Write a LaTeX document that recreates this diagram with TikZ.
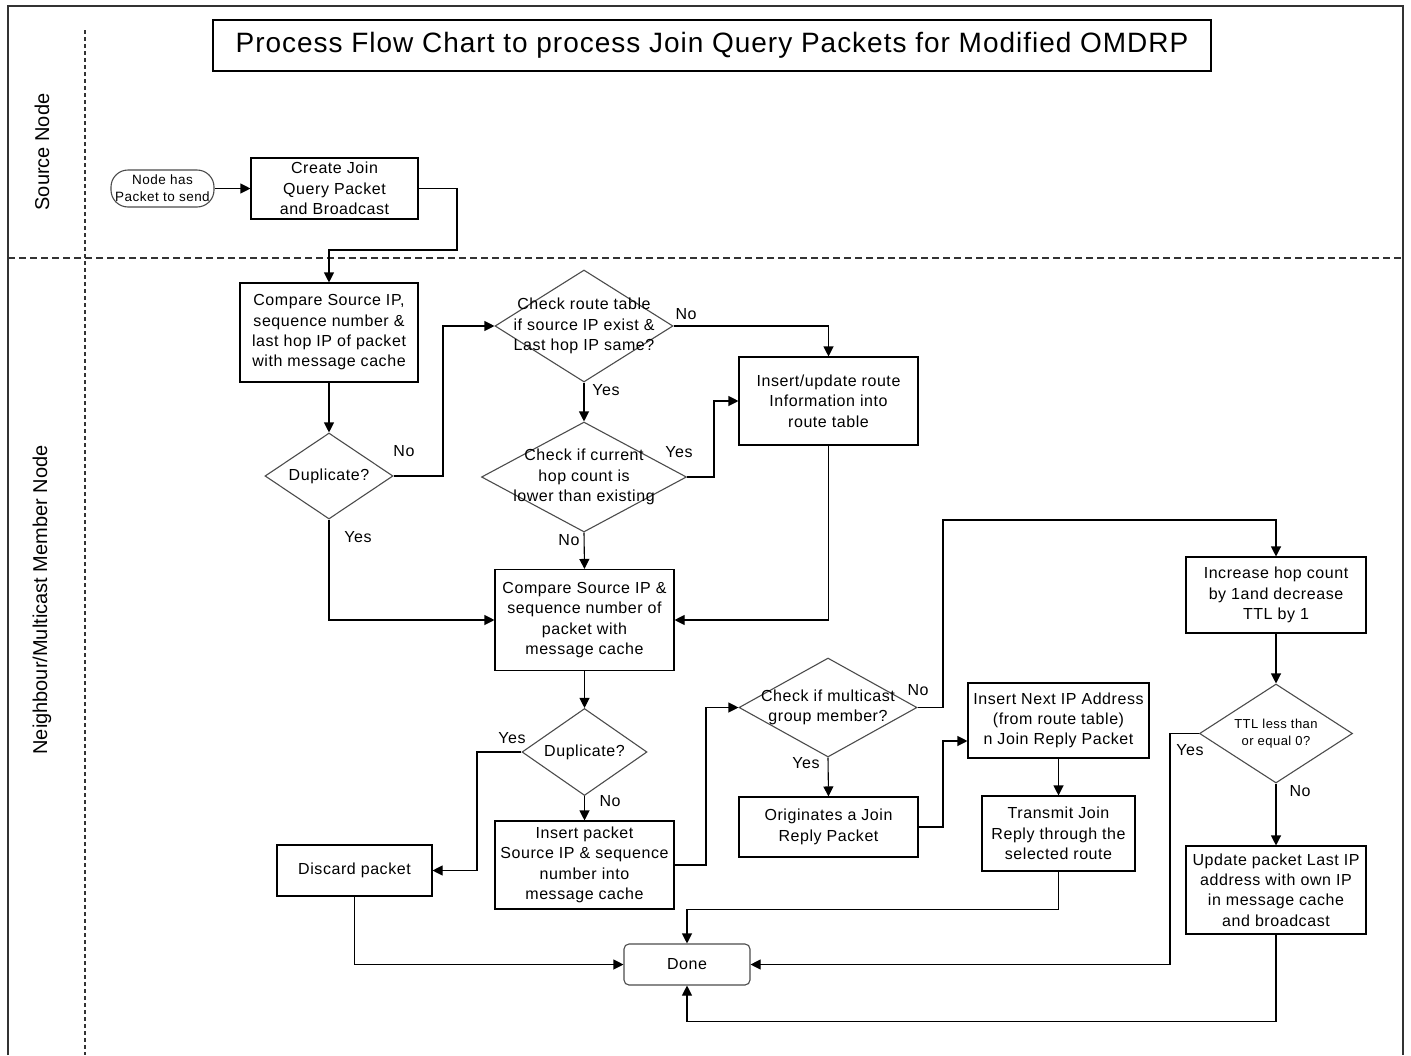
\documentclass[tikz,border=0pt]{standalone}
\usepackage{fontspec}
\setmainfont[LetterSpace=3.5]{Liberation Sans}
\newfontfamily\plainfont{Liberation Sans}
\usetikzlibrary{arrows.meta,shapes.geometric}
\begin{document}
\begin{tikzpicture}[x=1pt,y=-1pt,
  every node/.style={font=\fontsize{16}{20.3}\selectfont, text=black},
  box/.style={draw=black, line width=1.1pt, rectangle, inner sep=0pt, align=center},
  dia/.style={draw=black!70, line width=1.1pt, diamond, inner sep=0pt},
  dtext/.style={align=center, inner sep=0pt},
  conn/.style={line width=1.1pt, -{Triangle[length=10pt,width=10pt]}},
  yn/.style={inner sep=0pt},
  lane/.style={rotate=90, font=\plainfont\fontsize{20}{24}\selectfont, inner sep=0pt},
  frame/.style={draw=black!80, line width=1.3pt},
  hdash/.style={draw=black!80, line width=1.1pt, dash pattern=on 7pt off 4pt},
  vdash/.style={draw=black!80, line width=1.1pt, dash pattern=on 4pt off 3pt}
]
\useasboundingbox (0,0) rectangle (1411,1055);
\fill[white] (0,0) rectangle (1411,1055);

% frame and swimlanes
\draw[frame] (8,1055) -- (8,6) -- (1403,6) -- (1403,1055);
\draw[hdash] (8,258) -- (1403,258);
\draw[vdash] (85,30) -- (85,1055);
\node[lane] (laneSrc) at (42,152) {Source Node};
\node[lane] (laneNb) at (42,600) {Neighbour/Multicast Member Node};

% title
\node[draw=black, line width=1.1pt, minimum width=998pt, minimum height=51pt, inner sep=0pt,
      font=\fontsize{28}{30}\selectfont] (title) at (712,45.5)
      {Process Flow Chart to process Join Query Packets for Modified OMDRP};

% nodes
\node[draw=black!70, line width=1.1pt, rounded corners=17pt, minimum width=103pt, minimum height=37pt,
      inner sep=0pt, align=center, font=\fontsize{13.5}{17}\selectfont] (start) at (162.5,188.5)
      {Node has\\Packet to send};
\node[box, minimum width=167pt, minimum height=61pt] (create) at (334.5,188.5) {Create Join\\Query Packet\\and Broadcast};
\node[box, minimum width=178pt, minimum height=99pt] (compare1) at (329,332.5) {Compare Source IP,\\sequence number \&\\last hop IP of packet\\with message cache};
\node[dia, minimum width=128pt, minimum height=86pt,
      label={[dtext]center:Duplicate?}] (dup1) at (329,476) {};
\node[dia, minimum width=178pt, minimum height=112pt,
      label={[dtext]center:{Check route table\\if source IP exist \&\\Last hop IP same?}}] (routechk) at (584,326) {};
\node[dia, minimum width=205pt, minimum height=110pt,
      label={[dtext]center:{Check if current\\hop count is\\lower than existing}}] (hopchk) at (584,477) {};
\node[box, minimum width=179pt, minimum height=88pt] (insupd) at (828.5,401) {Insert/update route\\Information into\\route table};
\node[box, minimum width=179pt, minimum height=101pt] (compare2) at (584.5,620) {Compare Source IP \&\\sequence number of\\packet with\\message cache};
\node[dia, minimum width=125pt, minimum height=87pt,
      label={[dtext]center:Duplicate?}] (dup2) at (584.5,752) {};
\node[box, minimum width=155pt, minimum height=51pt] (discard) at (354.5,870.5) {Discard packet};
\node[box, minimum width=179pt, minimum height=88pt] (insertpkt) at (584.5,865) {Insert packet\\Source IP \& sequence\\number into\\message cache};
\node[dia, minimum width=178pt, minimum height=99pt,
      label={[dtext]center:{Check if multicast\\group member?}}] (mcast) at (828,707.5) {};
\node[box, minimum width=179pt, minimum height=60pt] (originate) at (828.5,827) {Originates a Join\\Reply Packet};
\node[box, minimum width=181pt, minimum height=75pt] (insnext) at (1058.5,720.5) {Insert Next IP Address\\(from route table)\\n Join Reply Packet};
\node[box, minimum width=153pt, minimum height=75pt] (transmit) at (1058.5,833.5) {Transmit Join\\Reply through the\\selected route};
\node[draw=black!70, line width=1.1pt, rounded corners=5pt, minimum width=126pt, minimum height=41pt,
      inner sep=0pt] (done) at (687,964.5) {Done};
\node[box, minimum width=180pt, minimum height=76pt] (increase) at (1276,595) {Increase hop count\\by 1and decrease\\TTL by 1};
\node[dia, minimum width=153pt, minimum height=99pt,
      label={[dtext, font=\fontsize{13}{17}\selectfont]center:{TTL less than\\or equal 0?}}] (ttl) at (1276,733.5) {};
\node[box, minimum width=180pt, minimum height=88pt] (update) at (1276,890) {Update packet Last IP\\address with own IP\\in message cache\\and broadcast};

% bend points
\coordinate (b1) at (457,250);
\coordinate (b2) at (443,326);
\coordinate (b3) at (714,401);
\coordinate (b4) at (477,870.5);
\coordinate (b5) at (706,707.5);
\coordinate (b6) at (943,520);
\coordinate (b7) at (943,741);
\coordinate (b8) at (1170,964.5);

% connectors
\draw[conn] (start.east) -- (create.west);
\draw[conn] (create.east) -| (b1) -| (compare1.north);
\draw[conn] (compare1.south) -- (dup1.north);
\draw[conn] (dup1.east) -| (b2) -- (routechk.west);
\draw[conn] (routechk.east) -| (insupd.north);
\draw[conn] (routechk.south) -- (hopchk.north);
\draw[conn] (hopchk.east) -| (b3) -- (insupd.west);
\draw[conn] (insupd.south) |- (compare2.east);
\draw[conn] (hopchk.south) -- (compare2.north);
\draw[conn] (dup1.south) |- (compare2.west);
\draw[conn] (compare2.south) -- (dup2.north);
\draw[conn] (dup2.west) -| (b4) -- (discard.east);
\draw[conn] (discard.south) |- (done.west);
\draw[conn] (dup2.south) -- (insertpkt.north);
\draw[conn] (insertpkt.east) -| (b5) -- (mcast.west);
\draw[conn] (mcast.east) -| (b6) -| (increase.north);
\draw[conn] (mcast.south) -- (originate.north);
\draw[conn] (originate.east) -| (b7) -- (b7 -| insnext.west);
\draw[conn] (insnext.south) -- (transmit.north);
\draw[conn] (transmit.south) -- ++(0,38) -| (done.north);
\draw[conn] (increase.south) -- (ttl.north);
\draw[conn] (ttl.west) -| (b8) -- (done.east);
\draw[conn] (ttl.south) -- (update.north);
\draw[conn] (update.south) -- ++(0,87) -| (done.south);

% yes / no labels
\node[yn] (y1) at (404,451) {No};
\node[yn] (y2) at (358,537) {Yes};
\node[yn] (y3) at (686,314) {No};
\node[yn] (y4) at (606,390) {Yes};
\node[yn] (y5) at (679,452) {Yes};
\node[yn] (y6) at (569,540) {No};
\node[yn] (y7) at (512,738) {Yes};
\node[yn] (y8) at (610,801) {No};
\node[yn] (y9) at (918,690) {No};
\node[yn] (y10) at (806,763) {Yes};
\node[yn] (y11) at (1190,750) {Yes};
\node[yn] (y12) at (1300,791) {No};
\end{tikzpicture}
\end{document}
